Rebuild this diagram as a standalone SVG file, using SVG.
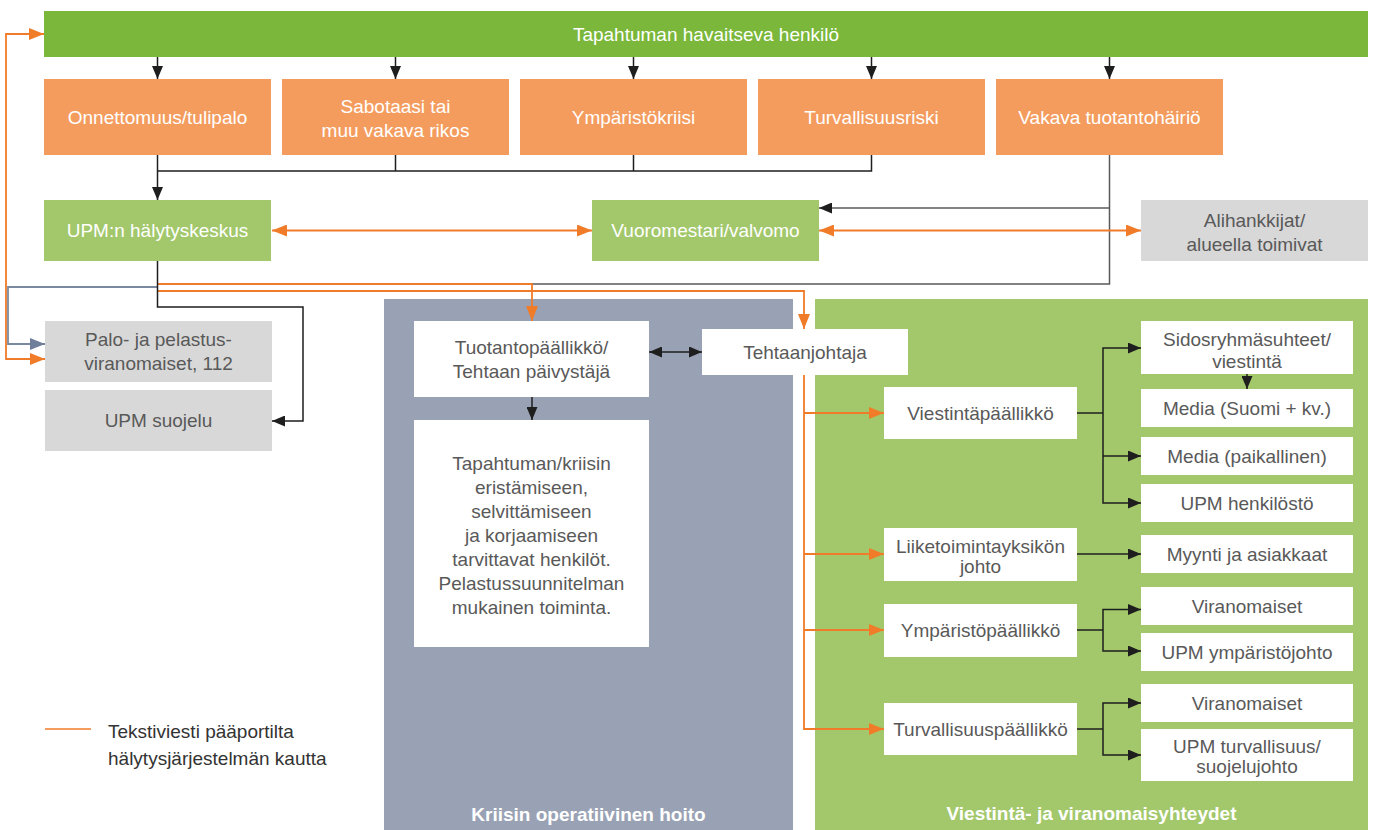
<svg xmlns="http://www.w3.org/2000/svg" width="1375" height="830" viewBox="0 0 1375 830">
<style>
text{font-family:"Liberation Sans",Arial,sans-serif;font-size:19px;text-anchor:middle}
.w{fill:#ffffff}
.g{fill:#595959}
.t{font-weight:bold;fill:#ffffff}
.top{fill:#7ab73a}
.or{fill:#f49c5e}
.lg{fill:#a2c86b}
.gr{fill:#d8d8d8}
.wb{fill:#ffffff}
.k{fill:none;stroke:#1e1e1e;stroke-width:1.5}
.kg{fill:none;stroke:#5a5a5a;stroke-width:1.5}
.sl{fill:none;stroke:#7b89a0;stroke-width:1.8}
.o{fill:none;stroke:#f07c2a;stroke-width:1.8}
</style>
<defs>
<marker id="ak" viewBox="0 0 13 11" refX="13" refY="5.5" markerWidth="13" markerHeight="11" markerUnits="userSpaceOnUse" orient="auto-start-reverse"><path d="M0,0 L13,5.5 L0,11 z" fill="#1e1e1e"/></marker>
<marker id="ao" viewBox="0 0 15 12" refX="15" refY="6" markerWidth="15" markerHeight="12" markerUnits="userSpaceOnUse" orient="auto-start-reverse"><path d="M0,0 L15,6 L0,12 z" fill="#f07c2a"/></marker>
<marker id="as" viewBox="0 0 15 12" refX="15" refY="6" markerWidth="15" markerHeight="12" markerUnits="userSpaceOnUse" orient="auto-start-reverse"><path d="M0,0 L15,6 L0,12 z" fill="#6f7f99"/></marker>
</defs>

<!-- panels -->
<g id="panel-kriisi">
<rect x="384" y="299" width="409" height="531" fill="#99a2b4"/>
<text class="t" x="588.5" y="821">Kriisin operatiivinen hoito</text>
</g>
<g id="panel-viestinta">
<rect x="815" y="299" width="553" height="531" fill="#a2c86b"/>
<text class="t" x="1091.5" y="820">Viestintä- ja viranomaisyhteydet</text>
</g>

<!-- connectors -->
<g id="connectors">
<path class="k" d="M157.5,57 V79" marker-end="url(#ak)"/>
<path class="k" d="M395.5,57 V79" marker-end="url(#ak)"/>
<path class="k" d="M633.5,57 V79" marker-end="url(#ak)"/>
<path class="k" d="M871.5,57 V79" marker-end="url(#ak)"/>
<path class="k" d="M1109.5,57 V79" marker-end="url(#ak)"/>
<path class="k" d="M395.5,155 V171 M633.5,155 V171 M871.5,155 V171 H157.5"/>
<path class="k" d="M157.5,155 V200" marker-end="url(#ak)"/>
<path class="kg" d="M1109.5,155 V284 H532"/>
<path class="kg" d="M1109.5,208 H819" marker-end="url(#ak)"/>
<path class="o" d="M157.5,284 H532 V321" marker-end="url(#ao)"/>
<path class="o" d="M157.5,291 H804 V329" marker-end="url(#ao)"/>
<path class="sl" d="M157.5,287 H8 V344 H45" marker-end="url(#as)"/>
<path class="k" d="M157.5,261 V307 H303 V421 H272" marker-end="url(#ak)"/>
<path class="o" d="M45,359 H6 V34 H44" marker-start="url(#ao)" marker-end="url(#ao)"/>
<path class="o" d="M272,230.5 H592" marker-start="url(#ao)" marker-end="url(#ao)"/>
<path class="o" d="M819,230.5 H1141" marker-start="url(#ao)" marker-end="url(#ao)"/>
<path class="k" d="M649,352 H702" marker-start="url(#ak)" marker-end="url(#ak)"/>
<path class="k" d="M532,397 V420" marker-end="url(#ak)"/>
<path class="o" d="M804,375 V729 H884" marker-end="url(#ao)"/>
<path class="o" d="M804,413 H884" marker-end="url(#ao)"/>
<path class="o" d="M804,554 H884" marker-end="url(#ao)"/>
<path class="o" d="M804,630 H884" marker-end="url(#ao)"/>
<path class="k" d="M1077,413 H1103"/>
<path class="k" d="M1141,348 H1103 V503 H1141" marker-start="url(#ak)" marker-end="url(#ak)"/>
<path class="k" d="M1103,456 H1141" marker-end="url(#ak)"/>
<path class="k" d="M1247,374 V389" marker-end="url(#ak)"/>
<path class="k" d="M1077,554 H1141" marker-end="url(#ak)"/>
<path class="k" d="M1077,630 H1103"/>
<path class="k" d="M1141,609.5 H1103 V651 H1141" marker-start="url(#ak)" marker-end="url(#ak)"/>
<path class="k" d="M1077,729 H1103"/>
<path class="k" d="M1141,703 H1103 V755 H1141" marker-start="url(#ak)" marker-end="url(#ak)"/>
</g>

<!-- nodes -->
<g id="n-havaitseva"><rect class="top" x="44" y="11" width="1324" height="46"/><text class="w" x="706" y="40.5">Tapahtuman havaitseva henkilö</text></g>
<g id="n-onnettomuus"><rect class="or" x="44" y="79" width="227" height="76"/><text class="w" x="157.5" y="123.5">Onnettomuus/tulipalo</text></g>
<g id="n-sabotaasi"><rect class="or" x="282" y="79" width="227" height="76"/><text class="w" x="395.5" y="113">Sabotaasi tai</text><text class="w" x="395.5" y="137">muu vakava rikos</text></g>
<g id="n-ymparistokriisi"><rect class="or" x="520" y="79" width="227" height="76"/><text class="w" x="633.5" y="123.5">Ympäristökriisi</text></g>
<g id="n-turvallisuusriski"><rect class="or" x="758" y="79" width="227" height="76"/><text class="w" x="871.5" y="123.5">Turvallisuusriski</text></g>
<g id="n-tuotantohairio"><rect class="or" x="996" y="79" width="227" height="76"/><text class="w" x="1109.5" y="123.5">Vakava tuotantohäiriö</text></g>

<g id="n-halytyskeskus"><rect class="lg" x="44" y="200" width="227" height="61"/><text class="w" x="157.5" y="237">UPM:n hälytyskeskus</text></g>
<g id="n-vuoromestari"><rect class="lg" x="592" y="200" width="227" height="61"/><text class="w" x="705.5" y="237">Vuoromestari/valvomo</text></g>
<g id="n-alihankkijat"><rect class="gr" x="1141" y="200" width="227" height="61"/><text class="g" x="1254.5" y="227">Alihankkijat/</text><text class="g" x="1254.5" y="251">alueella toimivat</text></g>

<g id="n-palo"><rect class="gr" x="45" y="321" width="227" height="61"/><text class="g" x="158.5" y="346">Palo- ja pelastus-</text><text class="g" x="158.5" y="370">viranomaiset, 112</text></g>
<g id="n-suojelu"><rect class="gr" x="45" y="390" width="227" height="61"/><text class="g" x="158.5" y="427">UPM suojelu</text></g>

<g id="n-tuotantopaallikko"><rect class="wb" x="414" y="321" width="235" height="76"/><text class="g" x="531.5" y="353.5">Tuotantopäällikkö/</text><text class="g" x="531.5" y="377.5">Tehtaan päivystäjä</text></g>
<g id="n-tehtaanjohtaja"><rect class="wb" x="702" y="329" width="206" height="46"/><text class="g" x="805" y="358.5">Tehtaanjohtaja</text></g>
<g id="n-henkilot"><rect class="wb" x="414" y="420" width="235" height="227"/>
<text class="g" x="531.5" y="469.5">Tapahtuman/kriisin</text>
<text class="g" x="531.5" y="493.5">eristämiseen,</text>
<text class="g" x="531.5" y="517.5">selvittämiseen</text>
<text class="g" x="531.5" y="541.5">ja korjaamiseen</text>
<text class="g" x="531.5" y="565.5">tarvittavat henkilöt.</text>
<text class="g" x="531.5" y="589.5">Pelastussuunnitelman</text>
<text class="g" x="531.5" y="613.5">mukainen toiminta.</text>
</g>

<g id="n-viestintapaallikko"><rect class="wb" x="884" y="387" width="193" height="52"/><text class="g" x="980.5" y="419.5">Viestintäpäällikkö</text></g>
<g id="n-liiketoiminta"><rect class="wb" x="884" y="528" width="193" height="53"/><text class="g" x="980.5" y="553">Liiketoimintayksikön</text><text class="g" x="980.5" y="573">johto</text></g>
<g id="n-ymparistopaallikko"><rect class="wb" x="884" y="604" width="193" height="53"/><text class="g" x="980.5" y="636.5">Ympäristöpäällikkö</text></g>
<g id="n-turvallisuuspaallikko"><rect class="wb" x="884" y="703" width="193" height="52"/><text class="g" x="980.5" y="735.5">Turvallisuuspäällikkö</text></g>

<g id="n-sidosryhma"><rect class="wb" x="1141" y="321" width="212" height="53"/><text class="g" x="1247" y="346">Sidosryhmäsuhteet/</text><text class="g" x="1247" y="367.5">viestintä</text></g>
<g id="n-media-suomi"><rect class="wb" x="1141" y="389" width="212" height="38"/><text class="g" x="1247" y="414.5">Media (Suomi + kv.)</text></g>
<g id="n-media-paik"><rect class="wb" x="1141" y="437" width="212" height="38"/><text class="g" x="1247" y="462.5">Media (paikallinen)</text></g>
<g id="n-henkilosto"><rect class="wb" x="1141" y="484" width="212" height="38"/><text class="g" x="1247" y="509.5">UPM henkilöstö</text></g>
<g id="n-myynti"><rect class="wb" x="1141" y="535" width="212" height="38"/><text class="g" x="1247" y="560.5">Myynti ja asiakkaat</text></g>
<g id="n-viranomaiset1"><rect class="wb" x="1141" y="587" width="212" height="38"/><text class="g" x="1247" y="612.5">Viranomaiset</text></g>
<g id="n-ymparistojohto"><rect class="wb" x="1141" y="633" width="212" height="38"/><text class="g" x="1247" y="658.5">UPM ympäristöjohto</text></g>
<g id="n-viranomaiset2"><rect class="wb" x="1141" y="684" width="212" height="38"/><text class="g" x="1247" y="709.5">Viranomaiset</text></g>
<g id="n-turvallisuusjohto"><rect class="wb" x="1141" y="729" width="212" height="52"/><text class="g" x="1247" y="753">UPM turvallisuus/</text><text class="g" x="1247" y="773">suojelujohto</text></g>

<g id="legend">
<line x1="45" y1="729" x2="91" y2="729" stroke="#f07c2a" stroke-width="1.5"/>
<text x="108" y="738" style="text-anchor:start;fill:#333333">Tekstiviesti pääportilta</text>
<text x="108" y="764.5" style="text-anchor:start;fill:#333333">hälytysjärjestelmän kautta</text>
</g>
</svg>
